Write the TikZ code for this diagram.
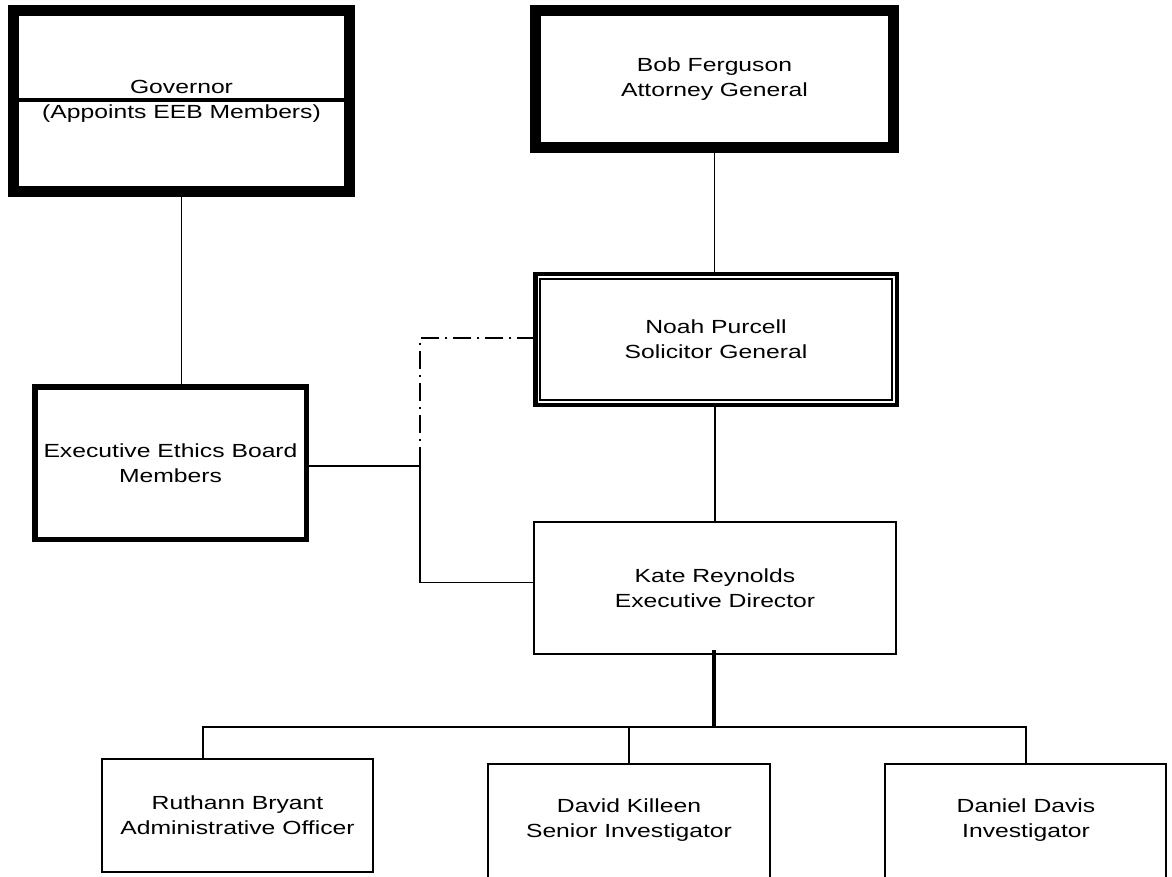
\documentclass[tikz,border=0pt]{standalone}
\usepackage{fontspec}
\setmainfont{Liberation Sans}[FakeStretch=1.3]
\begin{document}
\begin{tikzpicture}[x=1pt,y=-1pt]
\tikzset{
  txt/.style={align=center, inner sep=0pt, font=\fontsize{19}{25}\selectfont},
  box/.style={txt, draw=black, fill=white, rectangle, outer sep=0pt},
  conn/.style={line width=1.8pt, draw=black},
  dashdot/.style={line width=1.5pt, draw=black, dash pattern=on 18pt off 6pt on 2pt off 6pt},
}
\useasboundingbox (0,0) rectangle (1172,877);
\clip (0,0) rectangle (1172,877);
\fill[white] (0,0) rectangle (1172,877);

% boxes
\node[box, line width=11pt, minimum width=336pt, minimum height=181pt] (gov) at (181.5,101) {Governor\\(Appoints EEB Members)};
\node[box, line width=11pt, minimum width=358pt, minimum height=137pt] (ag) at (714.5,79) {Bob Ferguson\\Attorney General};
\node[box, line width=4.5pt, minimum width=361.5pt, minimum height=130.5pt] (noah) at (716,339.5) {Noah Purcell\\Solicitor General};
\node[box, line width=5.5pt, minimum width=271.5pt, minimum height=152.5pt] (eeb) at (170.5,463) {Executive Ethics Board\\Members};
\node[box, line width=1.8pt, minimum width=362.2pt, minimum height=132.2pt] (kate) at (715,588) {Kate Reynolds\\Executive Director};
\node[box, line width=2pt, minimum width=271pt, minimum height=113pt] (ruth) at (237.5,815.5) {Ruthann Bryant\\Administrative Officer};
\node[box, line width=2pt, minimum width=282pt, minimum height=140pt, anchor=north] (david) at (629,764) {};
\node[box, line width=2pt, minimum width=281pt, minimum height=140pt, anchor=north] (daniel) at (1025.5,764) {};
\node[txt] (davidt) at (629,820) {David Killeen\\Senior Investigator};
\node[txt] (danielt) at (1026,820) {Daniel Davis\\Investigator};

% box decorations
\draw[line width=4.5pt] ([shift={(0,-1)}]gov.west) -- ([shift={(0,-1)}]gov.east);
\draw[line width=2.4pt] ([shift={(5,5)}]noah.north west) rectangle ([shift={(-5,-5)}]noah.south east);

% connectors
\coordinate (j1) at (420,466);
\coordinate (j2) at (420,582.5);
\coordinate (d1) at (420,338);
\coordinate (k1) at (714,727);
\coordinate (b1) at (203,727);
\coordinate (b3) at (1026,727);

\draw[conn] (gov.south) -- (gov.south |- eeb.north);
\draw[conn] (ag.south) -- (ag.south |- noah.north);
\draw[conn] (kate.north |- noah.south) -- (kate.north);
\draw[conn] (eeb.east |- j1) -- (j1) -- (j2) -- (j2 -| kate.west);
\draw[dashdot] (noah.west |- d1) -- (d1) -- (j1);
\draw[line width=3.5pt] ([shift={(-1,-4)}]kate.south) -- (k1);
\draw[conn] (b1 |- ruth.north) -- (b1) -- (b3) -- (b3 |- daniel.north);
\draw[conn] (david.north |- b1) -- (david.north);
\end{tikzpicture}
\end{document}
